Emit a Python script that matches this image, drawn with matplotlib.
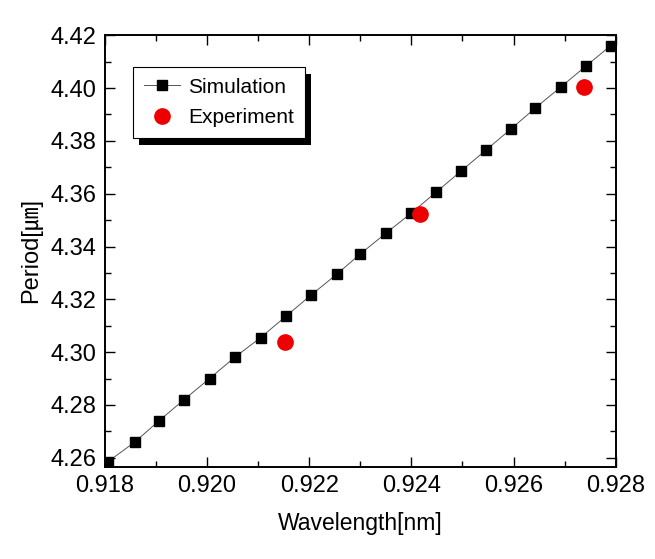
import matplotlib.pyplot as plt
from matplotlib.patches import Rectangle
from matplotlib.transforms import IdentityTransform
from matplotlib.ticker import MultipleLocator

plt.rcParams['font.family'] = ['Liberation Sans', 'Noto Sans CJK KR', 'DejaVu Sans']

# simulation points (wavelength in um, period in um)
sim_wavelength = [0.91806, 0.91859, 0.91906, 0.91955, 0.92005, 0.92054, 0.92105,
                  0.92154, 0.92203, 0.92254, 0.92299, 0.92350, 0.92399, 0.92448,
                  0.92497, 0.92546, 0.92595, 0.92643, 0.92692, 0.92741, 0.92790]
sim_period = [4.2585, 4.2660, 4.2740, 4.2820, 4.2900, 4.2980, 4.3055,
              4.3135, 4.3215, 4.3295, 4.3370, 4.3450, 4.3525, 4.3605,
              4.3685, 4.3765, 4.3845, 4.3925, 4.4003, 4.4082, 4.4160]

# measured points
exp_wavelength = [0.92152, 0.92416, 0.92738]
exp_period = [4.3040, 4.3522, 4.4003]

fig = plt.figure(figsize=(6.55, 5.59), dpi=100)
ax = fig.add_axes([0.160, 0.165, 0.780, 0.772])

ax.plot(sim_wavelength, sim_period, color='#555555', linewidth=0.7,
        marker='s', markersize=7, markerfacecolor='black',
        markeredgecolor='black', label='Simulation', zorder=3)
ax.plot(exp_wavelength, exp_period, linestyle='none', marker='o',
        markersize=11, color='#ee0000', label='Experiment', zorder=4)

ax.set_xlim(0.918, 0.928)
ax.set_ylim(4.2566, 4.42)
ax.xaxis.set_major_locator(MultipleLocator(0.002))
ax.xaxis.set_minor_locator(MultipleLocator(0.001))
ax.yaxis.set_major_locator(MultipleLocator(0.02))
ax.yaxis.set_minor_locator(MultipleLocator(0.01))
ax.xaxis.set_major_formatter(plt.FormatStrFormatter('%.3f'))
ax.yaxis.set_major_formatter(plt.FormatStrFormatter('%.2f'))

ax.tick_params(which='both', direction='in', top=True, right=True,
               labelsize=17, width=1.0)
ax.tick_params(which='major', length=7, pad=6)
ax.tick_params(which='minor', length=4)
for s in ax.spines.values():
    s.set_linewidth(1.4)

ax.set_xlabel('Wavelength[nm]', fontsize=16.5, labelpad=11)
ax.set_ylabel('Period[㎛]', fontsize=17, labelpad=6)

leg = ax.legend(loc='upper left', bbox_to_anchor=(0.035, 0.95), fontsize=15,
                frameon=True, fancybox=False, framealpha=1, edgecolor='black',
                handlelength=1.75, handletextpad=0.4, borderpad=0.5,
                labelspacing=0.55, borderaxespad=0.5)
leg.get_frame().set_linewidth(0.8)
leg.set_zorder(6)

# solid black drop shadow behind the legend box
fig.canvas.draw()
bb = leg.get_frame().get_window_extent()
shadow = Rectangle((bb.x0 + 6, bb.y0 - 7), bb.width, bb.height,
                   transform=IdentityTransform(), facecolor='black',
                   edgecolor='none', zorder=5.5, clip_on=False)
ax.add_patch(shadow)

fig.savefig('out.png', dpi=100)
